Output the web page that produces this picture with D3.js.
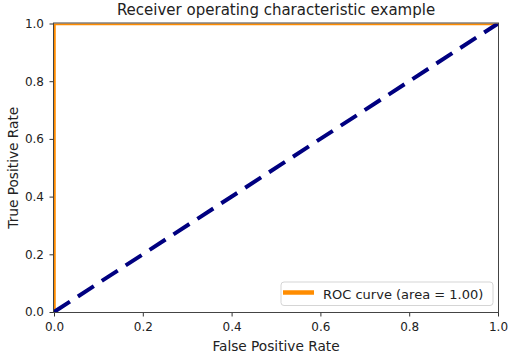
<!DOCTYPE html>
<html>
<head>
<meta charset="utf-8">
<script src="https://cdn.jsdelivr.net/npm/d3@7"></script>
<style>
  body { margin: 0; background: #fff; }
  text { font-family: "DejaVu Sans", sans-serif; fill: #222; }
</style>
</head>
<body>
<svg id="chart" width="510" height="354"></svg>
<script>
// ROC curve data
var fpr = [0, 0, 1];
var tpr = [0, 1, 1];
var chanceX = [0, 1];
var chanceY = [0, 1];
var ticks = [0, 0.2, 0.4, 0.6, 0.8, 1.0];
var legendLabel = "ROC curve (area = 1.00)";

var margin = {top: 23.5, right: 12, bottom: 42, left: 54};
var width = 510 - margin.left - margin.right;
var height = 354 - margin.top - margin.bottom;

var svg = d3.select("#chart");
var g = svg.append("g").attr("transform", "translate(" + margin.left + "," + margin.top + ")");

var x = d3.scaleLinear().domain([0, 1]).range([0, width]);
var y = d3.scaleLinear().domain([0, 1]).range([height, 0]);

// axes
var xAxis = g.append("g")
  .attr("transform", "translate(0," + height + ")")
  .call(d3.axisBottom(x).tickValues(ticks).tickFormat(d3.format(".1f")).tickSize(4.5).tickPadding(6));
var yAxis = g.append("g")
  .call(d3.axisLeft(y).tickValues(ticks).tickFormat(d3.format(".1f")).tickSize(4.5).tickPadding(5.5));
[xAxis, yAxis].forEach(function(a) {
  a.select(".domain").remove();
  a.selectAll("text").style("font-size", "12px").style("font-family", "DejaVu Sans, sans-serif").attr("fill", "#222");
  a.selectAll("line").attr("stroke", "#333");
});

// clip to the plot area
g.append("clipPath").attr("id", "plotClip")
  .append("rect").attr("width", width).attr("height", height);

var line = d3.line().x(function(d) { return x(d[0]); }).y(function(d) { return y(d[1]); });
var plot = g.append("g").attr("clip-path", "url(#plotClip)");

plot.append("path")
  .datum(fpr.map(function(v, i) { return [v, tpr[i]]; }))
  .attr("d", line)
  .attr("fill", "none")
  .attr("stroke", "#ff8c00")
  .attr("stroke-width", 3.5);

plot.append("path")
  .datum(chanceX.map(function(v, i) { return [v, chanceY[i]]; }))
  .attr("d", line)
  .attr("fill", "none")
  .attr("stroke", "#000080")
  .attr("stroke-width", 4)
  .attr("stroke-dasharray", "19,9.5");

// frame
g.append("rect")
  .attr("x", -0.5).attr("y", -0.5)
  .attr("width", width + 1).attr("height", height + 1)
  .attr("fill", "none").attr("stroke", "#444").attr("stroke-width", 1);

// title and labels
svg.append("text")
  .attr("x", margin.left + width / 2).attr("y", 15)
  .attr("text-anchor", "middle").style("font-size", "15px")
  .text("Receiver operating characteristic example");

svg.append("text")
  .attr("x", margin.left + width / 2).attr("y", 351)
  .attr("text-anchor", "middle").style("font-size", "13.7px")
  .text("False Positive Rate");

svg.append("text")
  .attr("transform", "translate(18," + (margin.top + height / 2) + ") rotate(-90)")
  .attr("text-anchor", "middle").style("font-size", "13.7px")
  .text("True Positive Rate");

// legend
var lg = g.append("g").attr("transform", "translate(" + (281 - margin.left) + "," + (282 - margin.top) + ")");
lg.append("rect")
  .attr("width", 212).attr("height", 23.5).attr("rx", 3)
  .attr("fill", "#fff").attr("fill-opacity", 0.8)
  .attr("stroke", "#d5d5d5");
lg.append("line")
  .attr("x1", 2).attr("x2", 33).attr("y1", 10.5).attr("y2", 10.5)
  .attr("stroke", "#ff8c00").attr("stroke-width", 4.5);
lg.append("text")
  .attr("x", 42).attr("y", 16.5).style("font-size", "13px")
  .text(legendLabel);
</script>
</body>
</html>
